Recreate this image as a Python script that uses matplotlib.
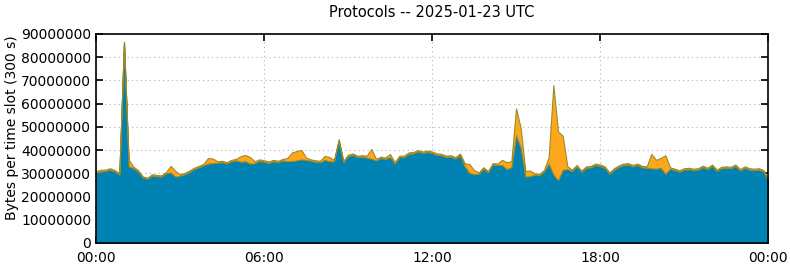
import matplotlib
matplotlib.use("Agg")
import matplotlib.pyplot as plt
from matplotlib.ticker import FixedLocator, FuncFormatter
import numpy as np

# 10-minute samples, 00:00 .. 24:00, values in millions of bytes per slot
hours = np.arange(145) / 6.0

tcp = [
    30.4, 30.8, 31.0, 31.6, 30.8, 29.5, 86.4, 33.0, 32.2, 30.8,
    28.2, 27.6, 29.0, 28.8, 28.6, 30.0, 30.4, 28.6, 29.0, 29.6,
    30.6, 31.8, 32.6, 33.4, 34.2, 34.4, 34.6, 34.8, 34.2, 35.2,
    35.6, 35.0, 35.2, 34.2, 34.4, 35.4, 35.0, 34.5, 35.2, 34.8,
    35.6, 35.2, 35.3, 35.6, 36.0, 35.8, 35.4, 35.0, 34.8, 35.8,
    35.2, 35.2, 44.0, 34.8, 37.4, 38.0, 37.0, 37.2, 36.8, 36.3,
    35.6, 36.6, 36.2, 37.0, 34.2, 37.0, 37.0, 38.4, 38.6, 39.4,
    38.8, 39.2, 38.8, 38.0, 37.8, 37.0, 37.2, 36.4, 37.8, 33.0,
    30.2, 29.7, 29.8, 32.0, 30.4, 33.8, 33.6, 33.6, 31.8, 32.6,
    46.5, 41.0, 28.6, 28.8, 29.4, 29.2, 30.8, 34.2, 29.5, 27.0,
    31.5, 31.8, 31.0, 33.0, 30.6, 32.4, 32.6, 33.6, 33.2, 32.4,
    29.8, 31.6, 32.8, 33.6, 33.8, 33.0, 33.6, 32.6, 32.4, 32.2,
    32.0, 32.4, 29.8, 32.0, 31.4, 30.7, 31.6, 31.8, 31.4, 31.6,
    32.7, 31.8, 33.2, 31.0, 32.2, 32.4, 32.2, 33.2, 31.2, 32.4,
    31.6, 31.4, 31.6, 30.8, 27.0,
]

udp = [
    0.6, 0.7, 0.6, 0.6, 0.6, 0.5, 0.3, 2.8, 0.7, 0.6,
    0.5, 0.5, 0.6, 0.5, 0.5, 0.6, 2.8, 2.4, 0.6, 0.6,
    0.6, 0.6, 0.6, 0.6, 2.4, 2.0, 0.6, 0.6, 0.6, 0.6,
    0.6, 2.4, 2.7, 2.8, 0.8, 0.6, 0.6, 0.6, 0.6, 0.6,
    0.6, 1.4, 3.7, 4.0, 4.1, 1.0, 0.6, 0.6, 0.6, 1.7,
    1.8, 0.6, 0.7, 0.6, 0.6, 0.6, 0.6, 0.6, 0.8, 4.2,
    0.6, 0.6, 0.6, 1.3, 0.6, 0.6, 0.6, 0.6, 0.6, 0.6,
    0.6, 0.6, 0.6, 0.6, 0.6, 0.6, 0.6, 0.6, 0.7, 1.3,
    3.8, 1.7, 0.6, 0.6, 0.6, 0.6, 0.6, 2.2, 3.0, 2.6,
    11.5, 8.5, 2.4, 2.4, 0.6, 0.6, 0.6, 2.8, 38.5, 21.0,
    14.7, 1.2, 0.6, 0.6, 0.6, 0.6, 0.6, 0.6, 0.6, 0.6,
    0.6, 0.6, 0.6, 0.6, 0.6, 0.6, 0.6, 0.6, 0.6, 6.2,
    3.8, 4.2, 8.0, 0.6, 0.6, 0.6, 0.6, 0.6, 0.6, 0.6,
    0.6, 0.6, 0.6, 0.6, 0.6, 0.6, 0.6, 0.6, 0.6, 0.6,
    0.6, 0.6, 0.6, 0.6, 0.4,
]

xticks = [0, 6, 12, 18, 24]
xlabels = ["00:00", "06:00", "12:00", "18:00", "00:00"]

blue = "#0083b3"
orange = "#fda81c"

fig = plt.figure(figsize=(7.9, 2.67), dpi=100)
ax = fig.add_axes([0.1215, 0.0899, 0.8507, 0.7828])

low = np.array(tcp) * 1e6
top = low + np.array(udp) * 1e6

ax.fill_between(hours, 0, low, facecolor=blue, edgecolor="#2f7f80", linewidth=0.8, zorder=2)
ax.fill_between(hours, low, top, facecolor=orange, edgecolor="#9c8a2a", linewidth=0.8, zorder=3)

ax.set_xlim(0, 24)
ax.set_ylim(0, 90e6)
ax.xaxis.set_major_locator(FixedLocator(xticks))
ax.set_xticklabels(xlabels)
ax.yaxis.set_major_locator(FixedLocator(np.arange(0, 91e6, 10e6)))
ax.yaxis.set_major_formatter(FuncFormatter(lambda v, p: "%d" % round(v)))
ax.tick_params(direction="in", top=True, right=True, length=5, width=1.2, labelsize=10)
ax.tick_params(axis="x", pad=6)
ax.grid(True, linestyle=(0, (1, 3)), color="#b0b0b0", linewidth=0.8, zorder=1)
ax.set_axisbelow(True)
for s in ax.spines.values():
    s.set_linewidth(1.2)
    s.set_zorder(5)

ax.set_ylabel("Bytes per time slot (300 s)", fontsize=10)
ax.yaxis.set_label_coords(-0.114, 0.55)
fig.text(0.547, 0.955, "Protocols -- 2025-01-23 UTC", ha="center", va="center", fontsize=10.5)

fig.savefig("out.png", dpi=100)
